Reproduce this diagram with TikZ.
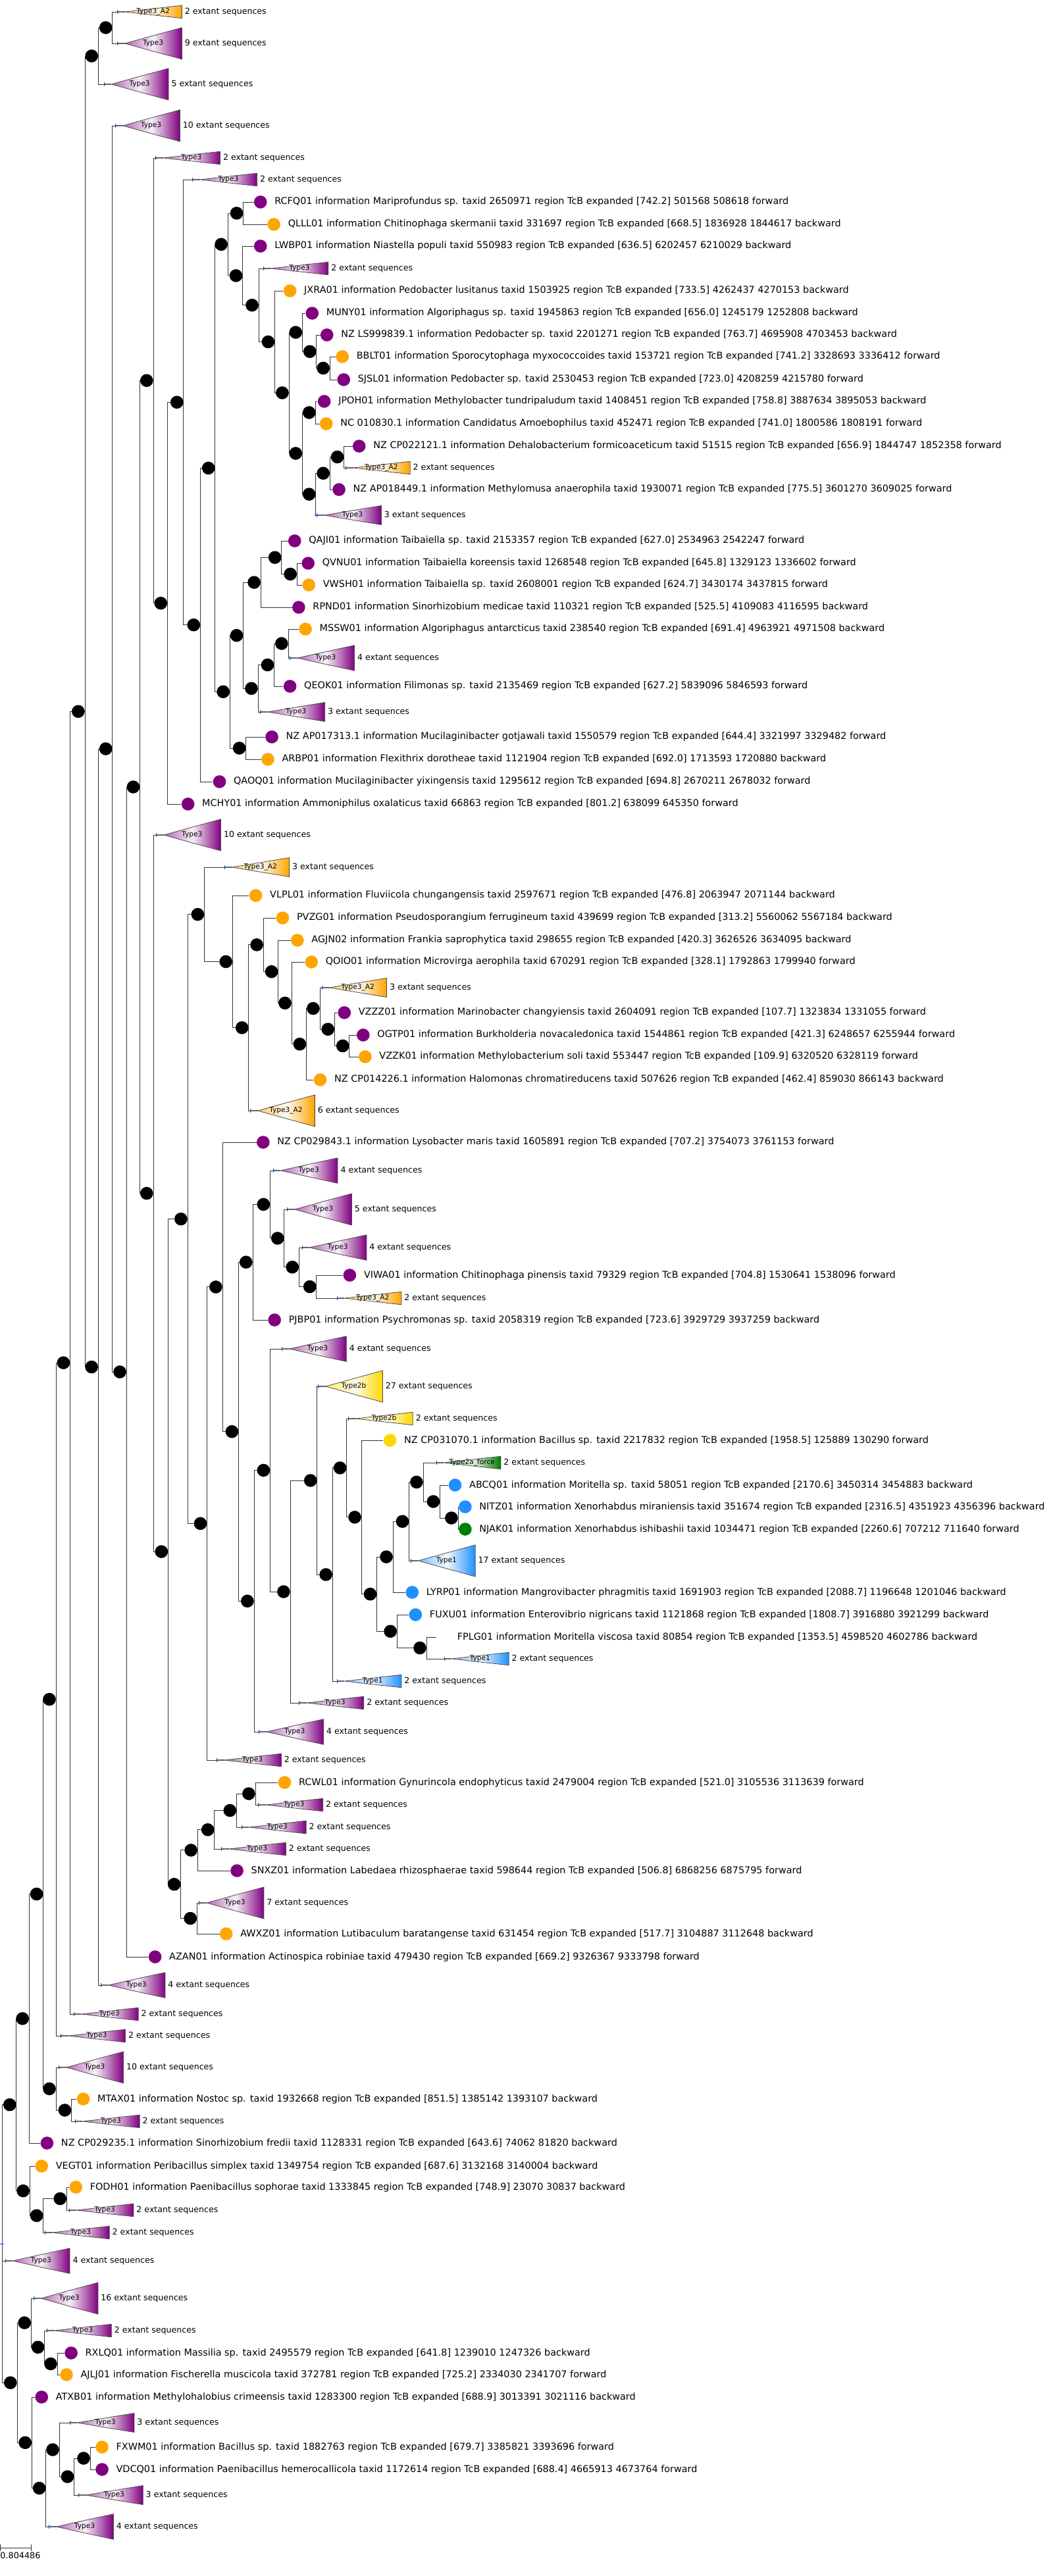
\documentclass[tikz,border=0pt]{standalone}
\usepackage{fontspec}
\setmainfont{DejaVu Sans}
\usepackage{xcolor}
\usepackage{tikz}
\usetikzlibrary{positioning,calc}

\definecolor{tcpurple}{HTML}{800080}
\definecolor{tcorange}{HTML}{FFA500}
\definecolor{tcgold}{HTML}{FFD700}
\definecolor{tcblue}{HTML}{1E90FF}
\definecolor{tcgreen}{HTML}{008000}
\definecolor{plusblue}{HTML}{2040C0}

% collapsed clade: name, x, y, half height, colour, type, count
\newcommand{\clade}[7]{%
  \coordinate (#1) at (#2,#3);
  \draw[stub] (#1) -- ++(11,0) coordinate (#1a);
  \shadedraw[wedge=#5] (#1a) -- ++(85,#4) -- ++(0,-2*#4) -- cycle;
  \node[typelab] at ($(#1a)+(42,0)$) {#6};
  \node[extlab] (#1t) at ($(#1a)+(89,0)$) {#7 extant sequences};
  \draw[plusm] ($(#1)+(-3,0)$) -- ++(6,0) ($(#1)+(0,-3)$) -- ++(0,6);
}
% sequence leaf: name, x, y, colour, label
\newcommand{\seqleaf}[5]{%
  \node[leafdot=#4] (#1) at (#2,#3) {};
  \node[lab, right=5.5pt of #1] (#1t) {#5};
}

\begin{document}
\begin{tikzpicture}[
    x=0.51pt, y=-0.5pt,
    br/.style={black!80, line width=0.5pt},
    supp/.style={circle, fill=black, inner sep=0pt, minimum size=9.8pt, anchor=east},
    leafdot/.style={circle, fill=#1, inner sep=0pt, minimum size=9.8pt},
    lab/.style={font=\fontsize{7.2}{8.5}\selectfont, inner sep=0pt},
    extlab/.style={font=\fontsize{6.3}{7.5}\selectfont, inner sep=0pt, anchor=west},
    typelab/.style={font=\fontsize{5.3}{6}\selectfont, inner sep=0pt},
    stub/.style={black!60, line width=0.9pt},
    plusm/.style={plusblue, line width=0.5pt},
    wedge/.style={left color=#1!60, right color=#1, middle color=#1!6, draw=black!70, line width=0.4pt}
  ]
    \useasboundingbox (0,0) rectangle (1568.6,3915);

    % Internal nodes (x of the vertical bar, y)
    \coordinate (root) at (3,3410);
    \coordinate (n1) at (167.5,42);      \coordinate (n2) at (146.5,85);
    \coordinate (n3) at (362.5,324);     \coordinate (n4) at (339.5,371.4);
    \coordinate (n5) at (361.5,418.9);   \coordinate (n6) at (385.5,463.75);
    \coordinate (n7) at (450.5,505.1);   \coordinate (n8) at (409.5,519.5);
    \coordinate (n9) at (471.5,534.25);  \coordinate (n10) at (491.5,559.5);
    \coordinate (n11) at (228.5,578.3);  \coordinate (n12) at (430.5,597);
    \coordinate (n13) at (273.5,611.3);  \coordinate (n14) at (470.5,627);
    \coordinate (n15) at (450.5,689);    \coordinate (n16) at (512.5,694.5);
    \coordinate (n17) at (320.5,711.4);  \coordinate (n18) at (491.5,719.25);
    \coordinate (n19) at (470.5,751.1);  \coordinate (n20) at (419.5,847.25);
    \coordinate (n21) at (442.5,872.5);  \coordinate (n22) at (388.5,885.1);
    \coordinate (n23) at (249.5,916.7);  \coordinate (n24) at (298.5,949.7);
    \coordinate (n25) at (362.5,965.7);  \coordinate (n26) at (429.5,978);
    \coordinate (n27) at (408.5,1010.5); \coordinate (n28) at (384.5,1046.25);
    \coordinate (n29) at (342.5,1051.3); \coordinate (n30) at (126.5,1081.25);
    \coordinate (n31) at (366.5,1137);   \coordinate (n32) at (167.5,1138);
    \coordinate (n33) at (208.5,1196);   \coordinate (n34) at (304.5,1389.7);
    \coordinate (n35) at (392.5,1435.9); \coordinate (n36) at (346.5,1461.5);
    \coordinate (n37) at (414.5,1476.7); \coordinate (n38) at (434.5,1524.4);
    \coordinate (n39) at (476.5,1532.6); \coordinate (n40) at (370.5,1561.9);
    \coordinate (n41) at (498.5,1564.25);\coordinate (n42) at (456.5,1586.8);
    \coordinate (n43) at (520.5,1589.5); \coordinate (n44) at (228.5,1813.6);
    \coordinate (n45) at (402.5,1830.4); \coordinate (n46) at (279.5,1852.6);
    \coordinate (n47) at (423.5,1881.9); \coordinate (n48) at (376.5,1918.2);
    \coordinate (n49) at (445.5,1925.75);\coordinate (n50) at (471.5,1955.5);
    \coordinate (n51) at (331.5,1955.9); \coordinate (n52) at (104.5,2071.1);
    \coordinate (n53) at (146.5,2077.5); \coordinate (n54) at (188.5,2085);
    \coordinate (n55) at (355.5,2175.7); \coordinate (n56) at (516.5,2230.9);
    \coordinate (n57) at (402.5,2234.5); \coordinate (n58) at (472.5,2250);
    \coordinate (n59) at (630.5,2252.5); \coordinate (n60) at (655.5,2282);
    \coordinate (n61) at (538.5,2305.85);\coordinate (n62) at (682.5,2307);
    \coordinate (n63) at (609.5,2312.25);\coordinate (n64) at (308.5,2315.4);
    \coordinate (n65) at (250.5,2358.1); \coordinate (n66) at (585.5,2366.1);
    \coordinate (n67) at (495.5,2393);   \coordinate (n68) at (432.5,2419);
    \coordinate (n69) at (561.5,2422.7); \coordinate (n70) at (378.5,2433.25);
    \coordinate (n71) at (591.5,2479.25);\coordinate (n72) at (635.5,2504.5);
    \coordinate (n73) at (83.5,2582.6);  \coordinate (n74) at (380.5,2726);
    \coordinate (n75) at (352.5,2751.5); \coordinate (n76) at (319.5,2780.75);
    \coordinate (n77) at (294.5,2811.9); \coordinate (n78) at (269.5,2863.7);
    \coordinate (n79) at (64.5,2878.5);  \coordinate (n80) at (293.5,2915.5);
    \coordinate (n81) at (43.5,3067.8);  \coordinate (n82) at (83.5,3174.5);
    \coordinate (n83) at (24.5,3198.7);  \coordinate (n84) at (106.5,3207);
    \coordinate (n85) at (44.5,3329.6);  \coordinate (n86) at (99.5,3341.5);
    \coordinate (n87) at (64.5,3367.25); \coordinate (n88) at (25.5,3621.2);
    \coordinate (n89) at (46.5,3530.1);  \coordinate (n90) at (66.5,3567.25);
    \coordinate (n91) at (85.5,3592.5);  \coordinate (n92) at (47.5,3712.25);
    \coordinate (n93) at (88.5,3723);    \coordinate (n94) at (134.5,3736);
    \coordinate (n95) at (110.5,3764);   \coordinate (n96) at (68.5,3781.5);

    % Collapsed clades
    \clade{l1}{175}{18}{9.75}{tcorange}{Type3\_A2}{2}
    \clade{l2}{175}{66}{24}{tcpurple}{Type3}{9}
    \clade{l3}{155}{128}{24}{tcpurple}{Type3}{5}
    \clade{l4}{172}{191}{24}{tcpurple}{Type3}{10}
    \clade{l5}{232}{240}{9.75}{tcpurple}{Type3}{2}
    \clade{l6}{287}{273}{9.75}{tcpurple}{Type3}{2}
    \clade{l10}{393}{408}{9.75}{tcpurple}{Type3}{2}
    \clade{l19}{515}{711}{9.75}{tcorange}{Type3\_A2}{2}
    \clade{l21}{472}{783}{14.5}{tcpurple}{Type3}{3}
    \clade{l27}{432}{1000}{19.25}{tcpurple}{Type3}{4}
    \clade{l29}{388}{1082}{14.5}{tcpurple}{Type3}{3}
    \clade{l34}{233}{1269}{24}{tcpurple}{Type3}{10}
    \clade{l35}{335}{1318}{14.5}{tcorange}{Type3\_A2}{3}
    \clade{l40}{480}{1501}{14.5}{tcorange}{Type3\_A2}{3}
    \clade{l45}{373}{1688}{24}{tcorange}{Type3\_A2}{6}
    \clade{l47}{407}{1779}{19.25}{tcpurple}{Type3}{4}
    \clade{l48}{428}{1838}{24}{tcpurple}{Type3}{5}
    \clade{l49}{450}{1896}{19.25}{tcpurple}{Type3}{4}
    \clade{l51}{502}{1973}{9.75}{tcorange}{Type3\_A2}{2}
    \clade{l53}{420}{2050}{19.25}{tcpurple}{Type3}{4}
    \clade{l54}{474}{2107}{24}{tcgold}{Type2b}{27}
    \clade{l55}{519}{2156}{9.75}{tcgold}{Type2b}{2}
    \clade{l57}{650}{2223}{9.75}{tcgreen}{Type2a\_force}{2}
    \clade{l61}{612}{2372}{24}{tcblue}{Type1}{17}
    \clade{l65}{662}{2521}{9.75}{tcblue}{Type1}{2}
    \clade{l66}{502}{2555}{9.75}{tcblue}{Type1}{2}
    \clade{l67}{446}{2588}{9.75}{tcpurple}{Type3}{2}
    \clade{l68}{386}{2632}{19.25}{tcpurple}{Type3}{4}
    \clade{l69}{323}{2675}{9.75}{tcpurple}{Type3}{2}
    \clade{l71}{385}{2743}{9.75}{tcpurple}{Type3}{2}
    \clade{l72}{360}{2777}{9.75}{tcpurple}{Type3}{2}
    \clade{l73}{330}{2810}{9.75}{tcpurple}{Type3}{2}
    \clade{l75}{297}{2892}{24}{tcpurple}{Type3}{7}
    \clade{l78}{150}{3017}{19.25}{tcpurple}{Type3}{4}
    \clade{l79}{110}{3061}{9.75}{tcpurple}{Type3}{2}
    \clade{l80}{91}{3094}{9.75}{tcpurple}{Type3}{2}
    \clade{l81}{88}{3142}{24}{tcpurple}{Type3}{10}
    \clade{l83}{112}{3224}{9.75}{tcpurple}{Type3}{2}
    \clade{l87}{103}{3359}{9.75}{tcpurple}{Type3}{2}
    \clade{l88}{67}{3393}{9.75}{tcpurple}{Type3}{2}
    \clade{l89}{8}{3436}{19.25}{tcpurple}{Type3}{4}
    \clade{l90}{50}{3493}{24}{tcpurple}{Type3}{16}
    \clade{l91}{70}{3542}{9.75}{tcpurple}{Type3}{2}
    \clade{l95}{104}{3682}{14.5}{tcpurple}{Type3}{3}
    \clade{l98}{117}{3792}{14.5}{tcpurple}{Type3}{3}
    \clade{l99}{73}{3840}{19.25}{tcpurple}{Type3}{4}

    % Sequence leaves
    \seqleaf{l7}{388}{307}{tcpurple}{RCFQ01 information Mariprofundus sp. taxid 2650971 region TcB expanded [742.2] 501568 508618 forward}
    \seqleaf{l8}{408}{341}{tcorange}{QLLL01 information Chitinophaga skermanii taxid 331697 region TcB expanded [668.5] 1836928 1844617 backward}
    \seqleaf{l9}{388}{374}{tcpurple}{LWBP01 information Niastella populi taxid 550983 region TcB expanded [636.5] 6202457 6210029 backward}
    \seqleaf{l11}{432}{442}{tcorange}{JXRA01 information Pedobacter lusitanus taxid 1503925 region TcB expanded [733.5] 4262437 4270153 backward}
    \seqleaf{l12}{465}{476}{tcpurple}{MUNY01 information Algoriphagus sp. taxid 1945863 region TcB expanded [656.0] 1245179 1252808 backward}
    \seqleaf{l13}{487}{509}{tcpurple}{NZ LS999839.1 information Pedobacter sp. taxid 2201271 region TcB expanded [763.7] 4695908 4703453 backward}
    \seqleaf{l14}{510}{542}{tcorange}{BBLT01 information Sporocytophaga myxococcoides taxid 153721 region TcB expanded [741.2] 3328693 3336412 forward}
    \seqleaf{l15}{512}{577}{tcpurple}{SJSL01 information Pedobacter sp. taxid 2530453 region TcB expanded [723.0] 4208259 4215780 forward}
    \seqleaf{l16}{483}{610}{tcpurple}{JPOH01 information Methylobacter tundripaludum taxid 1408451 region TcB expanded [758.8] 3887634 3895053 backward}
    \seqleaf{l17}{486}{644}{tcorange}{NC 010830.1 information Candidatus Amoebophilus taxid 452471 region TcB expanded [741.0] 1800586 1808191 forward}
    \seqleaf{l18}{535}{678}{tcpurple}{NZ CP022121.1 information Dehalobacterium formicoaceticum taxid 51515 region TcB expanded [656.9] 1844747 1852358 forward}
    \seqleaf{l20}{505}{744}{tcpurple}{NZ AP018449.1 information Methylomusa anaerophila taxid 1930071 region TcB expanded [775.5] 3601270 3609025 forward}
    \seqleaf{l22}{439}{822}{tcpurple}{QAJI01 information Taibaiella sp. taxid 2153357 region TcB expanded [627.0] 2534963 2542247 forward}
    \seqleaf{l23}{459}{856}{tcpurple}{QVNU01 information Taibaiella koreensis taxid 1268548 region TcB expanded [645.8] 1329123 1336602 forward}
    \seqleaf{l24}{460}{889}{tcorange}{VWSH01 information Taibaiella sp. taxid 2608001 region TcB expanded [624.7] 3430174 3437815 forward}
    \seqleaf{l25}{445}{923}{tcpurple}{RPND01 information Sinorhizobium medicae taxid 110321 region TcB expanded [525.5] 4109083 4116595 backward}
    \seqleaf{l26}{455}{956}{tcorange}{MSSW01 information Algoriphagus antarcticus taxid 238540 region TcB expanded [691.4] 4963921 4971508 backward}
    \seqleaf{l28}{432}{1043}{tcpurple}{QEOK01 information Filimonas sp. taxid 2135469 region TcB expanded [627.2] 5839096 5846593 forward}
    \seqleaf{l30}{405}{1120}{tcpurple}{NZ AP017313.1 information Mucilaginibacter gotjawali taxid 1550579 region TcB expanded [644.4] 3321997 3329482 forward}
    \seqleaf{l31}{399}{1154}{tcorange}{ARBP01 information Flexithrix dorotheae taxid 1121904 region TcB expanded [692.0] 1713593 1720880 backward}
    \seqleaf{l32}{327}{1188}{tcpurple}{QAOQ01 information Mucilaginibacter yixingensis taxid 1295612 region TcB expanded [694.8] 2670211 2678032 forward}
    \seqleaf{l33}{280}{1222}{tcpurple}{MCHY01 information Ammoniphilus oxalaticus taxid 66863 region TcB expanded [801.2] 638099 645350 forward}
    \seqleaf{l36}{381}{1361}{tcorange}{VLPL01 information Fluviicola chungangensis taxid 2597671 region TcB expanded [476.8] 2063947 2071144 backward}
    \seqleaf{l37}{421}{1395}{tcorange}{PVZG01 information Pseudosporangium ferrugineum taxid 439699 region TcB expanded [313.2] 5560062 5567184 backward}
    \seqleaf{l38}{443}{1429}{tcorange}{AGJN02 information Frankia saprophytica taxid 298655 region TcB expanded [420.3] 3626526 3634095 backward}
    \seqleaf{l39}{464}{1462}{tcorange}{QOIO01 information Microvirga aerophila taxid 670291 region TcB expanded [328.1] 1792863 1799940 forward}
    \seqleaf{l41}{513}{1539}{tcpurple}{VZZZ01 information Marinobacter changyiensis taxid 2604091 region TcB expanded [107.7] 1323834 1331055 forward}
    \seqleaf{l42}{541}{1573}{tcpurple}{OGTP01 information Burkholderia novacaledonica taxid 1544861 region TcB expanded [421.3] 6248657 6255944 forward}
    \seqleaf{l43}{544}{1606}{tcorange}{VZZK01 information Methylobacterium soli taxid 553447 region TcB expanded [109.9] 6320520 6328119 forward}
    \seqleaf{l44}{477}{1641}{tcorange}{NZ CP014226.1 information Halomonas chromatireducens taxid 507626 region TcB expanded [462.4] 859030 866143 backward}
    \seqleaf{l46}{392}{1736}{tcpurple}{NZ CP029843.1 information Lysobacter maris taxid 1605891 region TcB expanded [707.2] 3754073 3761153 forward}
    \seqleaf{l50}{521}{1938}{tcpurple}{VIWA01 information Chitinophaga pinensis taxid 79329 region TcB expanded [704.8] 1530641 1538096 forward}
    \seqleaf{l52}{409}{2006}{tcpurple}{PJBP01 information Psychromonas sp. taxid 2058319 region TcB expanded [723.6] 3929729 3937259 backward}
    \seqleaf{l56}{581}{2189}{tcgold}{NZ CP031070.1 information Bacillus sp. taxid 2217832 region TcB expanded [1958.5] 125889 130290 forward}
    \seqleaf{l58}{678}{2257}{tcblue}{ABCQ01 information Moritella sp. taxid 58051 region TcB expanded [2170.6] 3450314 3454883 backward}
    \seqleaf{l59}{693}{2290}{tcblue}{NITZ01 information Xenorhabdus miraniensis taxid 351674 region TcB expanded [2316.5] 4351923 4356396 backward}
    \seqleaf{l60}{693}{2324}{tcgreen}{NJAK01 information Xenorhabdus ishibashii taxid 1034471 region TcB expanded [2260.6] 707212 711640 forward}
    \seqleaf{l62}{614}{2420}{tcblue}{LYRP01 information Mangrovibacter phragmitis taxid 1691903 region TcB expanded [2088.7] 1196648 1201046 backward}
    \seqleaf{l63}{619}{2454}{tcblue}{FUXU01 information Enterovibrio nigricans taxid 1121868 region TcB expanded [1808.7] 3916880 3921299 backward}
    \seqleaf{l64}{660}{2488}{none}{FPLG01 information Moritella viscosa taxid 80854 region TcB expanded [1353.5] 4598520 4602786 backward}
    \seqleaf{l70}{424}{2709}{tcorange}{RCWL01 information Gynurincola endophyticus taxid 2479004 region TcB expanded [521.0] 3105536 3113639 forward}
    \seqleaf{l74}{353}{2843}{tcpurple}{SNXZ01 information Labedaea rhizosphaerae taxid 598644 region TcB expanded [506.8] 6868256 6875795 forward}
    \seqleaf{l76}{337}{2939}{tcorange}{AWXZ01 information Lutibaculum baratangense taxid 631454 region TcB expanded [517.7] 3104887 3112648 backward}
    \seqleaf{l77}{231}{2974}{tcpurple}{AZAN01 information Actinospica robiniae taxid 479430 region TcB expanded [669.2] 9326367 9333798 forward}
    \seqleaf{l82}{124}{3190}{tcorange}{MTAX01 information Nostoc sp. taxid 1932668 region TcB expanded [851.5] 1385142 1393107 backward}
    \seqleaf{l84}{70}{3257}{tcpurple}{NZ CP029235.1 information Sinorhizobium fredii taxid 1128331 region TcB expanded [643.6] 74062 81820 backward}
    \seqleaf{l85}{62}{3292}{tcorange}{VEGT01 information Peribacillus simplex taxid 1349754 region TcB expanded [687.6] 3132168 3140004 backward}
    \seqleaf{l86}{113}{3324}{tcorange}{FODH01 information Paenibacillus sophorae taxid 1333845 region TcB expanded [748.9] 23070 30837 backward}
    \seqleaf{l92}{106}{3576}{tcpurple}{RXLQ01 information Massilia sp. taxid 2495579 region TcB expanded [641.8] 1239010 1247326 backward}
    \seqleaf{l93}{99}{3609}{tcorange}{AJLJ01 information Fischerella muscicola taxid 372781 region TcB expanded [725.2] 2334030 2341707 forward}
    \seqleaf{l94}{62}{3643}{tcpurple}{ATXB01 information Methylohalobius crimeensis taxid 1283300 region TcB expanded [688.9] 3013391 3021116 backward}
    \seqleaf{l96}{152}{3719}{tcorange}{FXWM01 information Bacillus sp. taxid 1882763 region TcB expanded [679.7] 3385821 3393696 forward}
    \seqleaf{l97}{152}{3753}{tcpurple}{VDCQ01 information Paenibacillus hemerocallicola taxid 1172614 region TcB expanded [688.4] 4665913 4673764 forward}

    % Branches
    \foreach \p/\c in {root/n83, root/l89, root/n88,
        n1/l1, n1/l2, n2/n1, n2/l3, n3/l7, n3/l8, n4/n3, n4/n5, n5/l9, n5/n6,
        n6/l10, n6/n8, n7/l12, n7/n9, n8/l11, n8/n12, n9/l13, n9/n10, n10/l14, n10/l15,
        n11/l5, n11/n23, n12/n7, n12/n15, n13/l6, n13/n24, n14/l16, n14/l17,
        n15/n14, n15/n19, n16/l18, n16/l19, n17/n4, n17/n29, n18/n16, n18/l20,
        n19/n18, n19/l21, n20/l22, n20/n21, n21/l23, n21/l24, n22/n20, n22/l25,
        n23/n13, n23/l33, n24/n17, n24/l32, n25/n22, n25/n28, n26/l26, n26/l27,
        n27/n26, n27/l28, n28/n27, n28/l29, n29/n25, n29/n31, n30/n2, n30/n53,
        n31/l30, n31/l31, n32/l4, n32/n54, n33/n11, n33/n44, n34/l35, n34/n36,
        n35/l37, n35/n37, n36/l36, n36/n40, n37/l38, n37/n38, n38/l39, n38/n42,
        n39/l40, n39/n41, n40/n35, n40/l45, n41/l41, n41/n43, n42/n39, n42/l44,
        n43/l42, n43/l43, n44/l34, n44/n65, n45/l47, n45/n47, n46/n34, n46/n64,
        n47/l48, n47/n49, n48/n45, n48/l52, n49/l49, n49/n50, n50/l50, n50/l51,
        n51/l46, n51/n55, n52/n30, n52/l79, n53/n32, n53/l78, n54/n33, n54/l77,
        n55/n48, n55/n70, n56/l55, n56/n61, n57/l53, n57/n68, n58/l54, n58/n67,
        n59/l57, n59/n60, n60/l58, n60/n62, n61/l56, n61/n69, n62/l59, n62/l60,
        n63/n59, n63/l61, n64/n51, n64/l69, n65/n46, n65/n78, n66/n63, n66/l62,
        n67/n56, n67/l66, n68/n58, n68/l67, n69/n66, n69/n71, n70/n57, n70/l68,
        n71/l63, n71/n72, n72/l64, n72/l65, n73/n52, n73/l80, n74/l70, n74/l71,
        n75/n74, n75/l72, n76/n75, n76/l73, n77/n76, n77/l74, n78/n77, n78/n80,
        n79/n73, n79/n82, n80/l75, n80/l76, n81/n79, n81/l84, n82/l81, n82/n84,
        n83/n81, n83/n85, n84/l82, n84/l83, n85/l85, n85/n87, n86/l86, n86/l87,
        n87/n86, n87/l88, n88/n89, n88/n92, n89/l90, n89/n90, n90/l91, n90/n91,
        n91/l92, n91/l93, n92/l94, n92/n96, n93/l95, n93/n95, n94/l96, n94/l97,
        n95/n94, n95/l98, n96/n93, n96/l99}
      \draw[br] (\p) |- (\c);

    % Support markers
    \foreach \i in {1,...,96}
      \node[supp] at (n\i) {};
    \draw[plusm] ($(root)+(-3,0)$) -- ++(6,0) ($(root)+(0,-3)$) -- ++(0,6);

    % Scale bar
    \coordinate (sb0) at (0,3872);
    \coordinate (sb1) at (47,3872);
    \draw[br] (sb0) -- (sb1);
    \draw[br] (sb0) ++(0,-5) -- ++(0,10) (sb1) ++(0,-5) -- ++(0,10);
    \node[font=\fontsize{6.4}{7.5}\selectfont, inner sep=0pt, anchor=north west] at (0,3879) {0.804486};

  \end{tikzpicture}
\end{document}
